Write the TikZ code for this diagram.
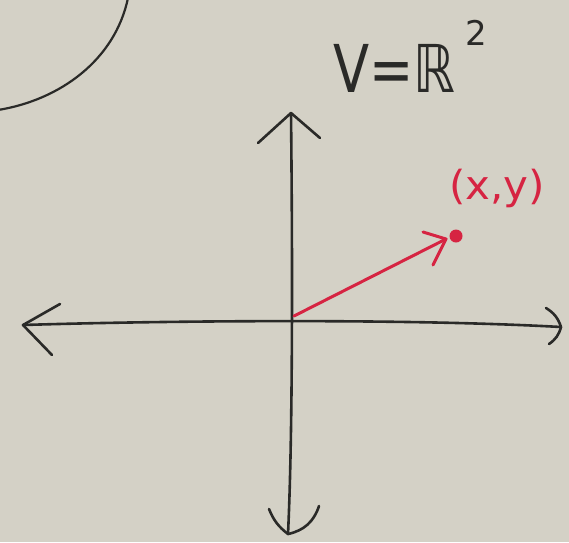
\documentclass[tikz,border=0pt]{standalone}
\usepackage{fontspec}
\newfontfamily\hand{DejaVu Sans}
\usetikzlibrary{calc}
\definecolor{board}{RGB}{212,209,198}
\definecolor{ink}{RGB}{42,42,40}
\definecolor{redink}{RGB}{214,36,66}
\begin{document}
\begin{tikzpicture}[x=1pt,y=-1pt,
  axis/.style={draw=ink, line width=2.6pt, line cap=round, line join=round},
  vec/.style={draw=redink, line width=3pt, line cap=round, line join=round}]
\fill[board] (0,0) rectangle (569,542);
\useasboundingbox (0,0) rectangle (569,542);
% top-left arc
\coordinate (c1) at (-2,110);
\coordinate (c2) at (128,-2);
\draw[axis, line width=2.2pt] (c1) .. controls (60,100) and (115,60) .. (c2);
% axes
\coordinate (L) at (23,325);
\coordinate (R) at (561,327);
\coordinate (T) at (291,113);
\coordinate (B) at (288,534);
\coordinate (O) at (294,316);
\coordinate (P) at (446,239);
\draw[axis] (L) .. controls (150,321) and (400,318) .. (R);
\draw[axis] (T) .. controls (293,300) and (292,450) .. (B);
% arrowheads
\draw[axis] ($(L)+(37,-21)$) -- (L) -- ($(L)+(29,30)$);
\draw[axis] ($(R)+(-15,-19)$) to[bend left=20] (R) to[bend left=20] ($(R)+(-12,17)$);
\draw[axis] ($(T)+(-33,30)$) -- (T) -- ($(T)+(29,25)$);
\draw[axis] ($(B)+(-19,-25)$) to[bend right=15] (B) to[bend right=30] ($(B)+(31,-28)$);
% vector
\draw[vec] (O) -- (P);
\draw[vec] ($(P)+(-23,-7)$) -- (P) -- ($(P)+(-13,26)$);
\node[circle, fill=redink, inner sep=0pt, minimum size=13pt] (dot) at (456,236) {};
\node[text=redink, font=\hand\fontsize{40}{40}\selectfont, xscale=1.05] (lbl) at (497,188) {(x,y)};
% title
\node[text=ink, font=\hand\fontsize{66}{66}\selectfont, anchor=base west, inner sep=0pt, xscale=0.8] (title) at (333,92) {V=ℝ};
\node[text=ink, font=\hand\fontsize{34}{34}\selectfont, anchor=base west, inner sep=0pt] (sup) at (465,45) {2};
\end{tikzpicture}
\end{document}
